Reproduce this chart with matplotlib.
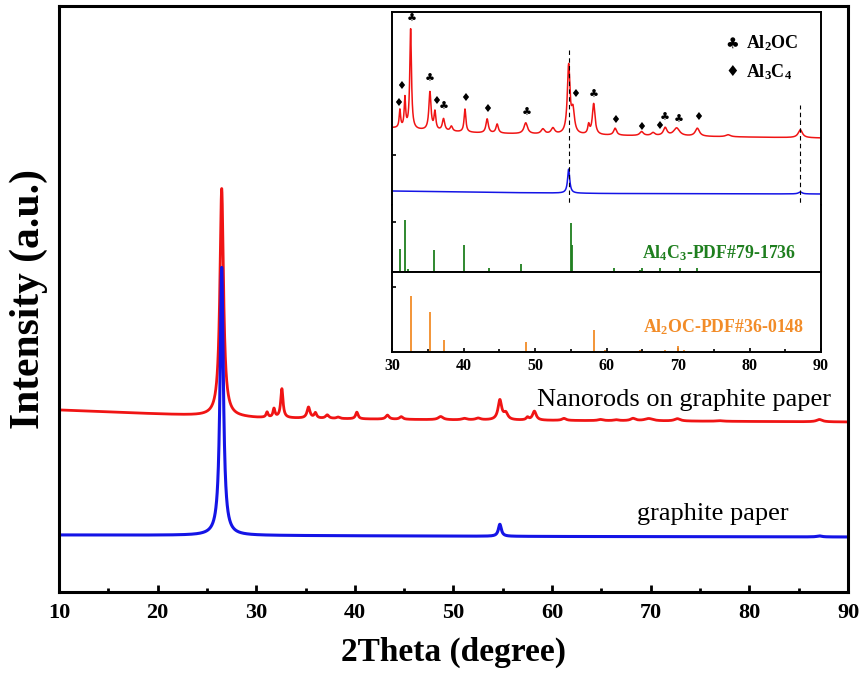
import numpy as np
import matplotlib
matplotlib.use('Agg')
import matplotlib.pyplot as plt

plt.rcParams['font.family'] = ['Liberation Serif', 'DejaVu Sans']
plt.rcParams['mathtext.fontset'] = 'custom'
plt.rcParams['mathtext.rm'] = 'Liberation Serif:bold'
plt.rcParams['mathtext.bf'] = 'Liberation Serif:bold'
plt.rcParams['mathtext.default'] = 'bf'

RED = '#f01414'
BLUE = '#1414e6'
GREEN = '#1f7f1f'
ORANGE = '#f28c28'

# --- sample peaks (2theta, height, half width) ---
# Nanorods on graphite paper, peaks above the graphite (002) reflection
nr_pos = [31.1, 31.8, 32.6, 35.3, 36.0, 37.2, 38.3, 40.2, 43.3, 44.7, 48.7,
          51.1, 52.5, 54.7, 55.3, 57.5, 58.2, 61.2, 64.9, 66.5, 68.2, 69.8,
          72.7, 77.0, 87.1]
nr_hgt = [18, 30, 100, 38, 18, 12, 5, 23, 14, 9, 11,
          5, 6, 68, 22, 9, 31, 7, 4, 3, 8, 8,
          8, 2, 8]
nr_wid = [0.12, 0.12, 0.14, 0.18, 0.15, 0.2, 0.2, 0.15, 0.2, 0.2, 0.3,
          0.3, 0.3, 0.22, 0.25, 0.15, 0.22, 0.25, 0.3, 0.3, 0.3, 0.5,
          0.35, 0.4, 0.35]
nr_graphite_hgt = 228      # graphite (002) at 26.5 in main panel
nr_main_scale = 0.29       # inset peak heights -> main panel

# graphite paper peaks
gp_pos = [26.5, 54.7, 87.1]
gp_hgt_main = [268, 12, 1]
gp_hgt_inset = [0, 24, 2]
gp_wid = [0.2, 0.18, 0.3]

# baselines (2theta knots, level)
nr_base_x = [10, 20, 25, 30, 40, 50, 70, 90]
nr_base_main = [182, 178, 176, 174, 173, 172, 171, 170]
nr_base_inset_x = [30, 33, 42, 54, 75, 90]
nr_base_inset = [77, 75, 72, 70, 68.3, 67]
gp_base_x = [10, 30, 60, 90]
gp_base_main = [57, 56.5, 55.5, 55]
gp_base_inset_x = [30, 45, 60, 90]
gp_base_inset = [14, 12.5, 11.5, 11]

# reference patterns
al4c3_pos = [31.1, 31.8, 32.2, 35.9, 40.1, 43.5, 48.1, 51.1, 55.0, 55.1,
             57.6, 61.0, 64.7, 65.0, 67.5, 70.3, 72.6, 76.1]
al4c3_hgt = [23, 52, 3, 22, 27, 4, 8, 1, 49, 27,
             1, 4, 2, 4, 4, 4, 4, 1]
al2oc_pos = [32.6, 35.3, 37.2, 48.7, 58.2, 59.8, 64.7, 68.2, 70.0, 70.8]
al2oc_hgt = [56, 40, 12, 10, 22, 2, 2, 2, 6, 2]

# phase markers above inset peaks
club_pos = [32.75, 35.3, 37.3, 48.8, 58.2, 68.2, 70.1]
club_lvl = [186, 126, 98, 92, 110, 87, 85]
diam_pos = [30.9, 31.3, 36.15, 40.2, 43.3, 55.6, 61.2, 64.9, 67.3, 72.8]
diam_lvl = [102, 119, 104, 107, 96, 111, 85, 78, 79, 88]

dash_pos = [54.7, 87.1]
dash_top = [155, 100]


def profile(x, pos, hgt, wid):
    y = np.zeros_like(x)
    for c, h, w in zip(pos, hgt, wid):
        y += h / (1 + ((x - c) / w) ** 2)
    return y


x = np.linspace(10, 90, 8001)
xi = x[x >= 30]

red_main = (np.interp(x, nr_base_x, nr_base_main)
            + profile(x, [26.5], [nr_graphite_hgt], [0.22])
            + nr_main_scale * profile(x, nr_pos, nr_hgt, nr_wid))
blue_main = np.interp(x, gp_base_x, gp_base_main) + profile(x, gp_pos, gp_hgt_main, gp_wid)
red_inset = np.interp(xi, nr_base_inset_x, nr_base_inset) + profile(xi, nr_pos, nr_hgt, nr_wid)
blue_inset = np.interp(xi, gp_base_inset_x, gp_base_inset) + profile(xi, gp_pos, gp_hgt_inset, gp_wid)

fig = plt.figure(figsize=(8.62, 6.77), dpi=100)

# main panel
ax = fig.add_axes([0.0684, 0.1256, 0.9154, 0.8656])
ax.plot(x, red_main, color=RED, lw=2.0)
ax.plot(x, blue_main, color=BLUE, lw=2.2)
ax.set_xlim(10, 90)
ax.set_ylim(0, 586)
ax.set_xticks(np.arange(10, 91, 10))
ax.set_xticks(np.arange(15, 90, 10), minor=True)
ax.set_yticks([])
ax.tick_params(axis='x', which='major', direction='in', length=5, width=2,
               labelsize=16, pad=8, top=False)
ax.tick_params(axis='x', which='minor', direction='in', length=3, width=2, top=False)
for lab in ax.get_xticklabels():
    lab.set_fontweight('bold')
for s in ax.spines.values():
    s.set_linewidth(2.2)
ax.set_xlabel('2Theta (degree)', fontsize=24, fontweight='bold', labelpad=10)
ax.set_ylabel('Intensity (a.u.)', fontsize=30, fontweight='bold', labelpad=8)
ax.text(58.5, 192, 'Nanorods on graphite paper', fontsize=19, ha='left', va='center')
ax.text(68.6, 78, 'graphite paper', fontsize=19, ha='left', va='center')

# inset: measured patterns
L, W = 0.4548, 0.4977
a1 = fig.add_axes([L, 0.6972, W, 0.2851])
a2 = fig.add_axes([L, 0.5982, W, 0.0990])
a3 = fig.add_axes([L, 0.4800, W, 0.1182])
for a in (a1, a2, a3):
    a.set_xlim(30, 90)
    for s in a.spines.values():
        s.set_linewidth(1.4)
    a.tick_params(direction='in', width=1.2, length=3)
    a.set_facecolor('white')

a1.plot(xi, red_inset, color=RED, lw=1.1)
a1.plot(xi, blue_inset, color=BLUE, lw=1.1)
a1.vlines(dash_pos, -5, dash_top, colors='black', linestyles=(0, (4, 3)), lw=0.8, clip_on=False)
a1.set_ylim(0, 193)
a1.spines['bottom'].set_visible(False)
a1.set_xticks([])
a1.set_yticks([50])
a1.set_yticklabels([])
for p, v in zip(club_pos, club_lvl):
    a1.text(p, v, '\u2663', fontsize=8, ha='center', va='center', family='DejaVu Sans')
for p, v in zip(diam_pos, diam_lvl):
    a1.text(p, v, '\u2666', fontsize=8, ha='center', va='center', family='DejaVu Sans')
a1.text(77.6, 162, '\u2663', fontsize=11, ha='center', va='center', family='DejaVu Sans')
a1.text(77.6, 133, '\u2666', fontsize=11, ha='center', va='center', family='DejaVu Sans')
a1.text(79.5, 162, r'Al$_2$OC', fontsize=13, fontweight='bold', ha='left', va='center')
a1.text(79.5, 133, r'Al$_3$C$_4$', fontsize=13, fontweight='bold', ha='left', va='center')

# inset: Al4C3 reference sticks
a2.vlines(al4c3_pos, 0, al4c3_hgt, colors=GREEN, lw=1.3)
a2.set_ylim(0, 67)
a2.spines['top'].set_visible(False)
a2.set_xticks([])
a2.set_yticks([50])
a2.set_yticklabels([])
a2.text(86.5, 19, r'Al$_4$C$_3$-PDF#79-1736', color=GREEN, fontsize=12.8,
        fontweight='bold', ha='right', va='center')

# inset: Al2OC reference sticks
a3.vlines(al2oc_pos, 0, al2oc_hgt, colors=ORANGE, lw=1.3)
a3.set_ylim(0, 80)
a3.set_xticks(np.arange(30, 91, 10))
a3.set_xticks(np.arange(35, 90, 10), minor=True)
a3.set_yticks([65])
a3.set_yticklabels([])
a3.tick_params(axis='x', labelsize=11.5, pad=4)
a3.tick_params(axis='x', which='minor', direction='in', length=2, width=1.2)
for lab in a3.get_xticklabels():
    lab.set_fontweight('bold')
a3.text(87.6, 25, r'Al$_2$OC-PDF#36-0148', color=ORANGE, fontsize=12.8,
        fontweight='bold', ha='right', va='center')

fig.savefig('out.png', dpi=100)
